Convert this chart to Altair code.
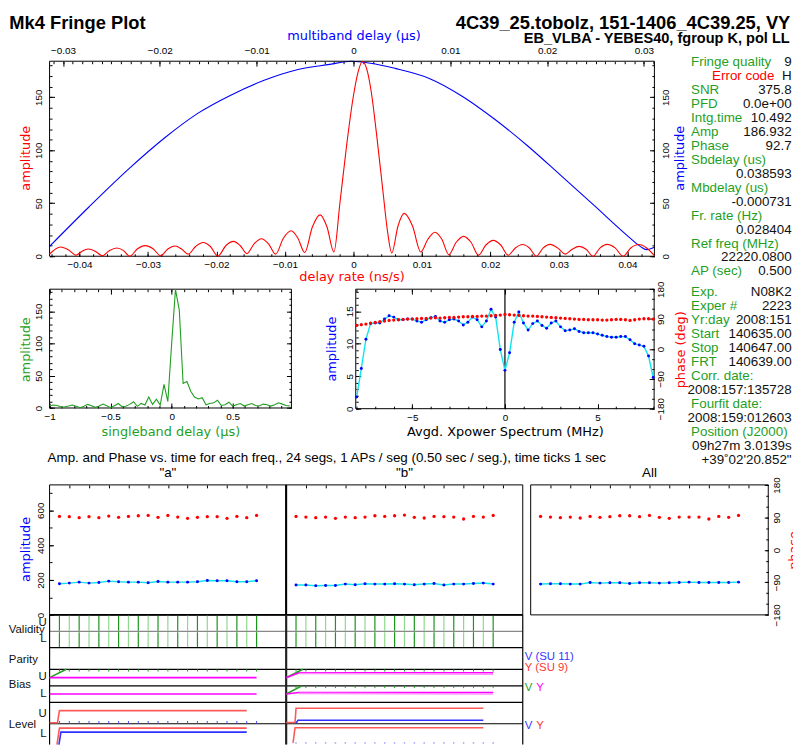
import json
import altair as alt
import numpy as np
import pandas as pd

# ============================ values ============================
TITLE_LEFT = "Mk4 Fringe Plot"
TITLE_RIGHT = "4C39_25.tobolz, 151-1406_4C39.25, VY"
SUBTITLE_RIGHT = "EB_VLBA - YEBES40, fgroup K, pol LL"
SEG_TITLE = ("Amp. and Phase vs. time for each freq., 24 segs, 1 APs / seg "
             "(0.50 sec / seg.), time ticks 1 sec")
PANEL_TITLES = ['"a"', '"b"', "All"]

# delay-rate fringe (red), delay rate in ns/s
rate_x = [-0.04436, -0.04277, -0.04164, -0.04051, -0.03962, -0.03873, -0.03770, -0.03666,
          -0.03560, -0.03454, -0.03360, -0.03266, -0.03152, -0.03039, -0.02926, -0.02814,
          -0.02710, -0.02605, -0.02509, -0.02413, -0.02305, -0.02197, -0.02088, -0.01980,
          -0.01864, -0.01749, -0.01652, -0.01556, -0.01450, -0.01344, -0.01240, -0.01137,
          -0.01023, -0.00910, -0.00811, -0.00712, -0.00600, -0.00487, -0.00386, -0.00285,
          -0.00198, -0.00101, -0.00004, 0.00068, 0.00130, 0.00192, 0.00260, 0.00332,
          0.00429, 0.00500, 0.00559, 0.00650, 0.00741, 0.00862, 0.00983, 0.01086,
          0.01189, 0.01290, 0.01392, 0.01500, 0.01608, 0.01716, 0.01825, 0.01933,
          0.02042, 0.02150, 0.02259, 0.02363, 0.02467, 0.02568, 0.02669, 0.02770,
          0.02871, 0.02980, 0.03092, 0.03193, 0.03295, 0.03396, 0.03497, 0.03600,
          0.03704, 0.03820, 0.03935, 0.04048, 0.04162, 0.04280, 0.04393]
rate_amp = [2.1, 8.7, 6.2, 1.0, 4.8, 6.8, 4.8, 0.5, 5.5, 7.8, 5.5, 0.0, 7.0, 10.0, 7.0, 0.5,
            6.8, 9.6, 6.8, 2.0, 9.2, 13.0, 9.2, 0.0, 9.9, 14.0, 9.9, 2.5, 11.7, 16.5, 11.7, 2.0,
            17.0, 24.0, 17.0, 3.5, 27.6, 39.0, 27.6, 4.0, 50, 104, 150, 174, 184, 177, 155, 118,
            62, 22, 3.0, 28.5, 40.4, 28.5, 4.0, 16.0, 22.7, 16.0, 1.5, 13.2, 18.7, 13.2, 1.0,
            10.6, 15.0, 10.6, 1.0, 7.8, 11.0, 7.8, 0.0, 7.9, 11.2, 7.9, 2.0, 6.6, 9.3, 6.6, 0.0,
            7.9, 11.2, 7.9, 0.0, 7.8, 11.0, 7.8, 0.5]

# multiband delay (blue), microseconds
mbd_x = [-0.03139, -0.02730, -0.02321, -0.01946, -0.01605, -0.01268, -0.00923, -0.00583,
         -0.00245, -0.00020, 0.00440, 0.00777, 0.01122, 0.01462, 0.01800, 0.02144, 0.02485,
         0.02822, 0.02962, 0.03027, 0.03108]
mbd_amp = [9.3, 46.7, 82.4, 112, 135, 152, 166, 176, 181, 184, 177, 168, 151, 129, 104, 76, 48,
           20, 9.3, 6.2, 8.4]

# singleband delay (green)
sbd_x = (np.arange(64) / 32 - 1).round(5).tolist()
sbd_amp = [3.5, 4.6, 4.0, 1.6, 2.0, 3.0, 4.6, 2.6, 0.5, 2.6, 5.6, 3.5, 1.0, 3.0, 6.1, 3.5,
           0.5, 3.5, 7.0, 2.0, 2.6, 5.6, 9.7, 2.6, 7.1, 4.6, 17.0, 5.6, 13.8, 4.6, 36.7, 10.0,
           100, 184, 152, 38, 41, 26, 17, 14, 16, 5, 7, 8, 12, 4, 5, 9,
           3, 5, 7, 3, 5, 7, 4, 3, 6, 5, 3, 5, 8, 6, 4, 3]

# averaged cross-power spectrum
xp_freq = (np.arange(65) * 0.25 - 8).tolist()
xp_amp = [1.8, 6.2, 10.7, 13.1, 13.2, 13.2, 13.8, 14.3, 14.1, 13.7,
          13.7, 13.8, 13.8, 13.5, 13.3, 13.7, 14.0, 14.2, 13.5, 13.3,
          13.7, 13.8, 13.5, 12.9, 13.3, 14.1, 13.7, 12.6, 13.5, 15.3,
          14.1, 9.1, 5.9, 8.6, 13.3, 14.9, 13.2, 12.1, 13.1, 13.5,
          12.8, 12.4, 13.2, 13.5, 12.6, 12.0, 12.1, 12.3, 11.9, 11.7,
          11.7, 11.7, 11.5, 11.3, 11.1, 11.0, 11.0, 11.1, 11.1, 10.6,
          10.0, 9.8, 9.6, 8.1, 4.8]
xp_phase = [71, 73, 75, 78, 80, 82, 84, 86, 87, 88,
            89, 90, 90, 91, 92, 92, 93, 94, 93, 94,
            95, 95, 96, 97, 97, 98, 98, 99, 99, 100,
            101, 102, 104, 103, 102, 101, 100, 99, 99, 98,
            97, 96, 95, 94, 93, 92, 91, 90, 89, 89,
            88, 88, 88, 87, 87, 88, 89, 89, 88, 86,
            88, 90, 91, 91, 90]

# amplitude / phase per segment
segs = list(range(1, 22))
a_amp = [178.5, 182.3, 188.0, 182.3, 186.1, 193.7, 189.9, 188.0, 188.0, 184.2, 191.8,
         188.0, 188.0, 188.0, 189.9, 197.5, 195.6, 195.6, 189.9, 189.9, 195.6]
a_phase = [92.8, 91.9, 89.2, 91.9, 89.2, 93.7, 90.1, 92.8, 94.6, 95.5, 90.1, 95.5, 91.0,
           87.4, 90.1, 91.9, 91.9, 87.4, 92.8, 89.2, 95.5]
b_amp = [171.0, 171.0, 167.2, 169.1, 169.1, 176.6, 172.8, 178.5, 176.6, 176.6, 178.5,
         176.6, 172.8, 176.6, 180.4, 171.0, 176.6, 176.6, 180.4, 182.3, 176.6]
b_phase = [92.8, 91.0, 89.2, 91.0, 87.4, 91.0, 89.2, 91.0, 94.6, 92.8, 94.6, 96.4, 90.1,
           88.3, 92.8, 91.9, 91.0, 85.6, 92.8, 91.0, 95.5]
all_amp = [176.6, 178.5, 178.5, 176.6, 176.6, 186.1, 182.3, 184.2, 184.2, 180.4, 184.2,
           184.2, 182.3, 184.2, 186.1, 188.0, 186.1, 186.1, 186.1, 186.1, 188.0]
all_phase = [92.8, 91.0, 89.2, 91.0, 88.3, 92.8, 90.1, 91.9, 94.6, 94.6, 91.9, 95.5, 90.1,
             87.4, 91.0, 91.0, 91.0, 85.6, 92.8, 90.1, 95.5]

# fringe information panel
info_labels_1 = ["Fringe quality", "", "SNR", "PFD", "Intg.time", "Amp", "Phase",
                 "Sbdelay (us)", "", "Mbdelay (us)", "", "Fr. rate (Hz)", "",
                 "Ref freq (MHz)", "", "AP (sec)"]
info_values_1 = ["9", "H", "375.8", "0.0e+00", "10.492", "186.932", "92.7", "",
                 "0.038593", "", "-0.000731", "", "0.028404", "", "22220.0800", "0.500"]
info_error = "Error code"
info_labels_2 = ["Exp.", "Exper #", "Yr:day", "Start", "Stop", "FRT", "Corr. date:", "",
                 "Fourfit date:", "", "Position (J2000)", "", ""]
info_values_2 = ["N08K2", "2223", "2008:151", "140635.00", "140647.00", "140639.00", "",
                 "2008:157:135728", "", "2008:159:012603", "", "09h27m 3.0139s",
                 "+39\u02da02'20.852\""]

# validity / parity / bias / level strip
row_names = ["Validity", "Parity", "Bias", "Level"]
row_name_pos = [15.3, 45.1, 70.1, 110.7]
row_sides = ["U", "L", "U", "L", "U", "L"]
row_side_pos = [7.5, 24.2, 62.5, 79.2, 99.2, 120.2]
row_edges = [33, 55, 71.7, 88.4, 110]
row_half_edge = [16.7]
station_text_1 = ["V (SU 11)", "Y (SU 9)"]
station_text_2 = ["V", "Y"]

strip_lines = [  # (style, seg positions, strip values)
    ("green", [0, 1.7], [63.4, 55.0]),
    ("magenta", [0, 21], [63.4, 63.4]),
    ("magenta", [0, 21], [80.0, 80.0]),
    ("green", [24, 25.7], [63.4, 55.0]),
    ("magenta", [24, 25.3, 45], [63.4, 58.4, 58.4]),
    ("pink", [25.3, 45], [59.3, 60.0]),
    ("green", [24, 25.6], [80.0, 71.7]),
    ("magenta", [24, 25.3, 45], [80.0, 78.4, 78.4]),
    ("pink", [25.3, 45], [79.3, 80.0]),
    ("red", [0, 0.8, 1.0, 20], [109.0, 109.0, 96.7, 96.7]),
    ("red", [0.75, 1.0, 20], [131, 114.4, 114.4]),
    ("blue", [0.95, 1.15, 20], [131, 118.4, 118.4]),
    ("red", [24, 24.9, 25.0, 44], [108.7, 108.7, 94.4, 94.4]),
    ("blue", [25.0, 25.2, 44], [109.4, 106.4, 106.4]),
    ("red", [24.7, 24.9, 44], [129.4, 114.0, 114.0]),
]

# ============================ layout and style ============================
W, H = 793, 739
M = 8
SANS = "Liberation Sans"
TSANS = "DejaVu Sans"
RED = "#ff0000"
BLUE = "#0000ff"
GREEN = "#1f9f1f"
CYAN = "#10e4f0"
MAGENTA = "#ff00ff"
STRIP_COLORS = {"green": "#22a022", "magenta": "#ff00ff", "pink": "#ff90ff",
                "red": "#ff5a5a", "blue": "#3030ff"}
NUM_LABEL = "format(datum.value, '~f')"

F_TOP = (50, 661, 58, 255)
F_SBD = (50, 294.3, 288.3, 408.3)
F_XPW = (359.3, 660.7, 288.3, 409)
F_A = (50, 289, 486, 617.3)
F_B = (289, 528, 486, 617.3)
F_ALL = (536, 776, 486, 617.3)
F_ROWS = (50, 528, 617.3, 748.3)


def g(v):
    return v - M


def scales(frame, xdom, ydom, ydown=False):
    x0, x1, y0, y1 = frame
    xs = alt.Scale(domain=xdom, range=[g(x0), g(x1)], nice=False, zero=False)
    yr = [g(y0), g(y1)] if ydown else [g(y1), g(y0)]
    ys = alt.Scale(domain=ydom, range=yr, nice=False, zero=False)
    return xs, ys


def tick_vals(dom, step):
    lo, hi = dom
    k0 = int(np.ceil(lo / step - 1e-9))
    k1 = int(np.floor(hi / step + 1e-9))
    return [round(k * step, 6) for k in range(k0, k1 + 1)]


def ax(frame, orient, values, ts, labels=False, lp=4.0, title=None, tpos=None,
       tcolor="black", **extra):
    x0, x1, y0, y1 = (g(v) for v in frame)
    if orient == "bottom":
        base = y1 - ts
        off = base - H
    elif orient == "top":
        base = y0 + ts
        off = -base
    elif orient == "left":
        base = x0 + ts
        off = -base
    else:
        base = x1 - ts
        off = base - W
    kw = dict(orient=orient, values=[float(v) for v in values], offset=round(float(off), 2),
              domain=False, grid=False, labels=labels, labelFlush=False, labelOverlap=False)
    if ts > 0:
        kw.update(ticks=True, tickSize=ts, tickColor="black", tickWidth=1)
    else:
        kw.update(ticks=False, tickSize=0)
    if labels:
        kw.update(labelPadding=lp, labelFont=SANS, labelFontSize=10, labelColor="black",
                  labelExpr=NUM_LABEL)
        if orient in ("left", "right"):
            kw.update(labelAngle=270, labelAlign="center", labelBaseline="middle")
        else:
            kw.update(labelAngle=0, labelAlign="center")
    if title:
        tx, ty = g(tpos[0]), g(tpos[1])
        if orient in ("bottom", "top"):
            kw.update(titleX=round(tx, 2), titleY=round(ty - base, 2), titleAngle=0)
        else:
            kw.update(titleX=round(tx - base, 2), titleY=round(ty, 2), titleAngle=270)
        kw.update(title=title, titleColor=tcolor, titleFont=TSANS, titleFontSize=13,
                  titleFontWeight="normal", titleAlign="center", titleBaseline="middle")
    else:
        kw["title"] = None
    kw.update(extra)
    return alt.Axis(**kw)


def xy(chart, xf, yf, xs, ys, xa=None, ya=None, **enc):
    return chart.encode(x=alt.X(field=xf, type="quantitative", scale=xs, axis=xa),
                        y=alt.Y(field=yf, type="quantitative", scale=ys, axis=ya), **enc)


DUMMY = pd.DataFrame({"v": [0.0]})


def axis_child(xs, ys, xa=None, ya=None):
    return xy(alt.Chart(DUMMY).mark_point(opacity=0, size=1), "v", "v", xs, ys, xa, ya)


def frame_child(xs, ys, xdom, ydom, sw=1.0):
    df = pd.DataFrame({"x0": [xdom[0]], "x1": [xdom[1]], "y0": [ydom[0]], "y1": [ydom[1]]})
    return xy(alt.Chart(df).mark_rect(fillOpacity=0, stroke="black", strokeWidth=sw),
              "x0", "y0", xs, ys, x2="x1:Q", y2="y1:Q")


def vrule(xs, ys, x, y0, y1, color="black", sw=1.0):
    df = pd.DataFrame({"x": [x], "y0": [y0], "y1": [y1]})
    return xy(alt.Chart(df).mark_rule(color=color, strokeWidth=sw), "x", "y0", xs, ys,
              y2="y1:Q")


def label(text, x, y, color="black", size=13.5, align="left", weight="normal", font=SANS):
    return alt.Chart(pd.DataFrame({"t": [text]})).mark_text(
        align=align, baseline="alphabetic", font=font, fontSize=size, fontWeight=weight,
        color=color).encode(x=alt.value(round(g(x), 2)), y=alt.value(round(g(y), 2)),
                            text="t:N")


def indep(*layers):
    return alt.layer(*layers).resolve_axis(x="independent", y="independent")


# ---------------------------------------------------------------- top plot
rate_dom = [-0.04436, 0.04393]
mbd_dom = [-0.03139, 0.03108]
top_amp_dom = [0, 184]
xs_r, ys_r = scales(F_TOP, rate_dom, top_amp_dom)
xs_m, ys_m = scales(F_TOP, mbd_dom, top_amp_dom)

top_blue = indep(
    xy(alt.Chart(pd.DataFrame({"x": mbd_x, "y": mbd_amp})).mark_line(
        color=BLUE, strokeWidth=1.1, interpolate="monotone"), "x", "y", xs_m, ys_m),
    axis_child(xs_m, ys_m,
               ax(F_TOP, "top", tick_vals(mbd_dom, 0.01), 5, labels=True, lp=6,
                  title="multiband delay (\u03bcs)", tpos=(357, 32.5), tcolor=BLUE),
               ax(F_TOP, "right", [0, 50, 100, 150], 5, labels=True, lp=11,
                  title="amplitude", tpos=(686.7, 155.5), tcolor=BLUE)),
    axis_child(xs_m, ys_m, ax(F_TOP, "top", tick_vals(mbd_dom, 0.001), 2.5),
               ax(F_TOP, "right", tick_vals(top_amp_dom, 10), 2.5)),
)
top_red = indep(
    frame_child(xs_r, ys_r, rate_dom, top_amp_dom),
    xy(alt.Chart(pd.DataFrame({"x": rate_x, "y": rate_amp})).mark_line(
        color=RED, strokeWidth=1.1, interpolate="monotone"), "x", "y", xs_r, ys_r),
    axis_child(xs_r, ys_r,
               ax(F_TOP, "bottom", tick_vals(rate_dom, 0.01), 5, labels=True, lp=3,
                  title="delay rate (ns/s)", tpos=(355, 276), tcolor=RED),
               ax(F_TOP, "left", [0, 50, 100, 150], 5, labels=True, lp=11,
                  title="amplitude", tpos=(25.8, 155.5), tcolor=RED)),
    axis_child(xs_r, ys_r, ax(F_TOP, "bottom", tick_vals(rate_dom, 0.002), 2.5),
               ax(F_TOP, "left", tick_vals(top_amp_dom, 10), 2.5)),
)

# ---------------------------------------------------------------- singleband delay
sbd_dom = [-1, 0.981]
sbd_amp_dom = [0, 184.4]
xs_s, ys_s = scales(F_SBD, sbd_dom, sbd_amp_dom)
sbd_major = [-1, -0.5, 0, 0.5]
sbd_chart = indep(
    frame_child(xs_s, ys_s, sbd_dom, sbd_amp_dom),
    xy(alt.Chart(pd.DataFrame({"x": sbd_x, "y": sbd_amp})).mark_line(
        color=GREEN, strokeWidth=1.1), "x", "y", xs_s, ys_s),
    axis_child(xs_s, ys_s,
               ax(F_SBD, "bottom", sbd_major, 5, labels=True, lp=3.7,
                  title="singleband delay (\u03bcs)", tpos=(172, 432), tcolor=GREEN),
               ax(F_SBD, "left", [0, 50, 100, 150], 5, labels=True, lp=11.5,
                  title="amplitude", tpos=(25.8, 349), tcolor=GREEN)),
    axis_child(xs_s, ys_s, ax(F_SBD, "bottom", tick_vals(sbd_dom, 0.1), 2.5),
               ax(F_SBD, "left", tick_vals(sbd_amp_dom, 10), 2.5)),
    axis_child(xs_s, ys_s, ax(F_SBD, "top", sbd_major, 5), ax(F_SBD, "right", [0, 50, 100, 150], 5)),
    axis_child(xs_s, ys_s, ax(F_SBD, "top", tick_vals(sbd_dom, 0.1), 2.5),
               ax(F_SBD, "right", tick_vals(sbd_amp_dom, 10), 2.5)),
)

# ---------------------------------------------------------------- xpower spectrum
xp_dom = [-8.05, 8.05]
xp_amp_dom = [0, 18.4]
ph_dom = [-180, 180]
xs_x, ys_xa = scales(F_XPW, xp_dom, xp_amp_dom)
xs_x2, ys_xp = scales(F_XPW, xp_dom, ph_dom)
xp_df = pd.DataFrame({"x": xp_freq, "amp": xp_amp, "ph": xp_phase})
xpw_amp = indep(
    frame_child(xs_x, ys_xa, xp_dom, xp_amp_dom),
    vrule(xs_x, ys_xa, 0, 0, 18.4, sw=1.2),
    xy(alt.Chart(xp_df).mark_line(color=CYAN, strokeWidth=1.4), "x", "amp", xs_x, ys_xa),
    xy(alt.Chart(xp_df).mark_point(filled=True, size=9, color=BLUE, opacity=1), "x", "amp",
       xs_x, ys_xa),
    axis_child(xs_x, ys_xa,
               ax(F_XPW, "bottom", [-5, 0, 5], 5, labels=True, lp=3.5,
                  title="Avgd. Xpower Spectrum (MHz)", tpos=(510, 432), tcolor="black"),
               ax(F_XPW, "left", [0, 5, 10, 15], 5, labels=True, lp=6.5,
                  title="amplitude", tpos=(334.7, 348.3), tcolor=BLUE)),
    axis_child(xs_x, ys_xa, ax(F_XPW, "bottom", tick_vals(xp_dom, 1), 2.5),
               ax(F_XPW, "left", tick_vals(xp_amp_dom, 1), 2.5)),
    axis_child(xs_x, ys_xa, ax(F_XPW, "top", [-5, 0, 5], 5)),
    axis_child(xs_x, ys_xa, ax(F_XPW, "top", tick_vals(xp_dom, 1), 2.5)),
)
xpw_phase = indep(
    xy(alt.Chart(xp_df).mark_point(filled=True, size=11, color=RED, opacity=1), "x", "ph",
       xs_x2, ys_xp),
    axis_child(xs_x2, ys_xp, None,
               ax(F_XPW, "right", [-180, -90, 0, 90, 180], 5, labels=True, lp=6.3,
                  title="phase (deg)", tpos=(687.3, 349), tcolor=RED)),
    axis_child(xs_x2, ys_xp, None, ax(F_XPW, "right", tick_vals(ph_dom, 30), 2.5)),
)

# ---------------------------------------------------------------- info panel
info_rows = list(range(len(info_labels_1))) + [16.45 + 1.01 * j for j in range(len(info_labels_2))]
all_labels = info_labels_1 + info_labels_2
all_values = info_values_1 + info_values_2
lab_df = pd.DataFrame({"row": [r for r, t in zip(info_rows, all_labels) if t],
                       "t": [t for t in all_labels if t]})
val_df = pd.DataFrame({"row": [r for r, t in zip(info_rows, all_values) if t],
                       "t": [t for t in all_values if t]})
err_df = pd.DataFrame({"row": [1], "t": [info_error]})
ys_info = alt.Scale(domain=[0, 28], range=[g(63.3), g(63.3 + 28 * 14.07)], nice=False, zero=False)


def info_text(df, x, align, color):
    return alt.Chart(df).mark_text(align=align, baseline="alphabetic", font=SANS, fontSize=13.5,
                                   color=color).encode(
        x=alt.value(round(g(x), 2)),
        y=alt.Y(field="row", type="quantitative", scale=ys_info, axis=None), text="t:N")


info_chart = alt.layer(info_text(lab_df, 698, "left", GREEN),
                       info_text(val_df, 799.6, "right", "#111111"),
                       info_text(err_df, 782.3, "right", RED))

# ---------------------------------------------------------------- segment panels
seg_dom = [0, 24]
pamp_dom = [0, 746]
even_ticks = list(range(2, 24, 2))


def seg_panel(frame, amps, phases, extra_amp=(), extra_ph=()):
    xs, ys = scales(frame, seg_dom, pamp_dom)
    xs2, ys2 = scales(frame, seg_dom, ph_dom)
    adf = pd.DataFrame({"s": segs, "a": amps})
    pdf = pd.DataFrame({"s": segs, "p": phases})
    amp_layer = indep(
        frame_child(xs, ys, seg_dom, pamp_dom),
        xy(alt.Chart(adf).mark_line(color=CYAN, strokeWidth=1.5), "s", "a", xs, ys),
        xy(alt.Chart(adf).mark_point(filled=True, size=9, color=BLUE, opacity=1), "s", "a", xs, ys),
        *[f(xs, ys) for f in extra_amp],
    )
    ph_layer = indep(
        xy(alt.Chart(pdf).mark_point(filled=True, size=11, color=RED, opacity=1), "s", "p", xs2, ys2),
        *[f(xs2, ys2) for f in extra_ph],
    )
    return [amp_layer, ph_layer]


panel_a = seg_panel(
    F_A, a_amp, a_phase,
    extra_amp=[
        lambda xs, ys: vrule(xs, ys, 24, 0, 746, sw=2),
        lambda xs, ys: axis_child(xs, ys, ax(F_A, "top", even_ticks, 3),
                                  ax(F_A, "left", [0, 200, 400, 600], 4, labels=True, lp=9.3,
                                     title="amplitude", tpos=(25.8, 550.7), tcolor=BLUE)),
        lambda xs, ys: axis_child(xs, ys, None, ax(F_A, "left", tick_vals(pamp_dom, 100), 2.5)),
    ])
panel_b = seg_panel(
    F_B, b_amp, b_phase,
    extra_amp=[lambda xs, ys: axis_child(xs, ys, ax(F_B, "top", even_ticks, 3), None)])
panel_all = seg_panel(
    F_ALL, all_amp, all_phase,
    extra_amp=[lambda xs, ys: axis_child(xs, ys, ax(F_ALL, "top", even_ticks, 3), None)],
    extra_ph=[
        lambda xs, ys: axis_child(xs, ys, None,
                                  ax(F_ALL, "right", [-180, -90, 0, 90, 180], 4, labels=True,
                                     lp=8.5, title="phase", tpos=(802, 551.7), tcolor=RED)),
        lambda xs, ys: axis_child(xs, ys, None, ax(F_ALL, "right", tick_vals(ph_dom, 30), 2.5)),
    ])

# ---------------------------------------------------------------- validity / bias / level strip
rows_xdom = [0, 48]
rows_ydom = [0, 131]
xs_w, ys_w = scales(F_ROWS, rows_xdom, rows_ydom, ydown=True)


def hrules(ys_list, color, sw):
    df = pd.DataFrame({"y": ys_list, "xa": [0] * len(ys_list), "xb": [48] * len(ys_list)})
    return xy(alt.Chart(df).mark_rule(color=color, strokeWidth=sw), "xa", "y", xs_w, ys_w,
              x2="xb:Q")


def vticks(xs_list, y0, y1, color, sw=1.0):
    df = pd.DataFrame({"x": xs_list, "y0": [y0] * len(xs_list), "y1": [y1] * len(xs_list)})
    return xy(alt.Chart(df).mark_rule(color=color, strokeWidth=sw), "x", "y0", xs_w, ys_w,
              y2="y1:Q")


both_cols = segs + [24 + s for s in segs]
odd_cols = [s for s in both_cols if s % 2 == 1]
even_cols = [s for s in both_cols if s % 2 == 0]
strip_layers = [
    hrules([0], "black", 1.8),
    hrules(row_edges, "black", 1.2),
    hrules(row_half_edge, "#888888", 1.2),
    vticks([0, 48], 0, 131, "black", 1.2),
    vticks([24], 0, 131, "#222222", 2.2),
    vticks(odd_cols, 0.8, 16.0, "#1a961a", 1.2),
    vticks(even_cols, 0.8, 16.0, "#8fd88f", 1.2),
    vticks(odd_cols, 17.5, 32.4, "#1a961a", 1.2),
    vticks(even_cols, 17.5, 32.4, "#8fd88f", 1.2),
    vticks(both_cols, 55, 57.3, "#22a022", 1.0),
    vticks([24 + s for s in segs], 71.7, 74.0, "#22a022", 1.0),
    vticks(segs, 107.2, 110, "#4a4aff", 1.0),
]
for style, sx, sy in strip_lines:
    strip_layers.append(
        xy(alt.Chart(pd.DataFrame({"x": sx, "y": sy})).mark_line(
            color=STRIP_COLORS[style], strokeWidth=1.6), "x", "y", xs_w, ys_w))
strip_layers.append(
    xy(alt.Chart(pd.DataFrame({"x": [24 + s for s in segs], "y": [129.3] * len(segs)})).mark_point(
        filled=True, size=3, color="#a8a8ff", opacity=1), "x", "y", xs_w, ys_w))

names_expr = "{}[indexof({}, datum.value)]".format(json.dumps(row_names), json.dumps(row_name_pos))
sides_expr = "{}[indexof({}, datum.value)]".format(json.dumps(row_sides), json.dumps(row_side_pos))
strip_layers.append(axis_child(xs_w, ys_w, None, ax(
    (8.3, 528, 617.3, 748.3), "left", row_name_pos, 0, labels=True, lp=0,
    labelExpr=names_expr, labelAngle=0, labelAlign="left", labelBaseline="middle",
    labelFontSize=11.5, labelColor="#111111")))
strip_layers.append(axis_child(xs_w, ys_w, None, ax(
    F_ROWS, "left", row_side_pos, 0, labels=True, lp=3.5,
    labelExpr=sides_expr, labelAngle=0, labelAlign="right", labelBaseline="middle",
    labelFontSize=11.5, labelColor="#111111")))
strip_chart = indep(*strip_layers)

# ---------------------------------------------------------------- free texts
texts = [
    label(TITLE_LEFT, 9.3, 25, size=18.5, weight="bold"),
    label(TITLE_RIGHT, 798.3, 25, size=18.5, weight="bold", align="right"),
    label(SUBTITLE_RIGHT, 797.7, 39.3, size=14.7, weight="bold", align="right"),
    label(SEG_TITLE, 48, 463.3, size=13.5),
    label(PANEL_TITLES[0], 169.5, 477.7, size=13.5, align="center"),
    label(PANEL_TITLES[1], 408.5, 477.7, size=13.5, align="center"),
    label(PANEL_TITLES[2], 656, 477.7, size=13.5, align="center"),
    label(station_text_1[0], 530, 662.7, "#3535ff", 11.5),
    label(station_text_1[1], 530, 674.3, "#ff3535", 11.5),
    label(station_text_2[0], 530, 694.3, "#22a022", 11.5),
    label(station_text_2[1], 541.7, 694.3, MAGENTA, 11.5),
    label(station_text_2[0], 530, 732.7, "#3535ff", 11.5),
    label(station_text_2[1], 541.7, 732.7, "#ff3535", 11.5),
]

layers = ([top_blue, top_red, sbd_chart, xpw_amp, xpw_phase, info_chart]
          + panel_a + panel_b + panel_all + [strip_chart] + texts)

chart = alt.layer(*layers).resolve_scale(x="independent", y="independent").properties(
    width=W, height=H, padding=0, autosize=alt.AutoSizeParams(type="none")
).configure_view(strokeWidth=0)

chart.save("out.html", embed_options={"renderer": "svg", "actions": False})
